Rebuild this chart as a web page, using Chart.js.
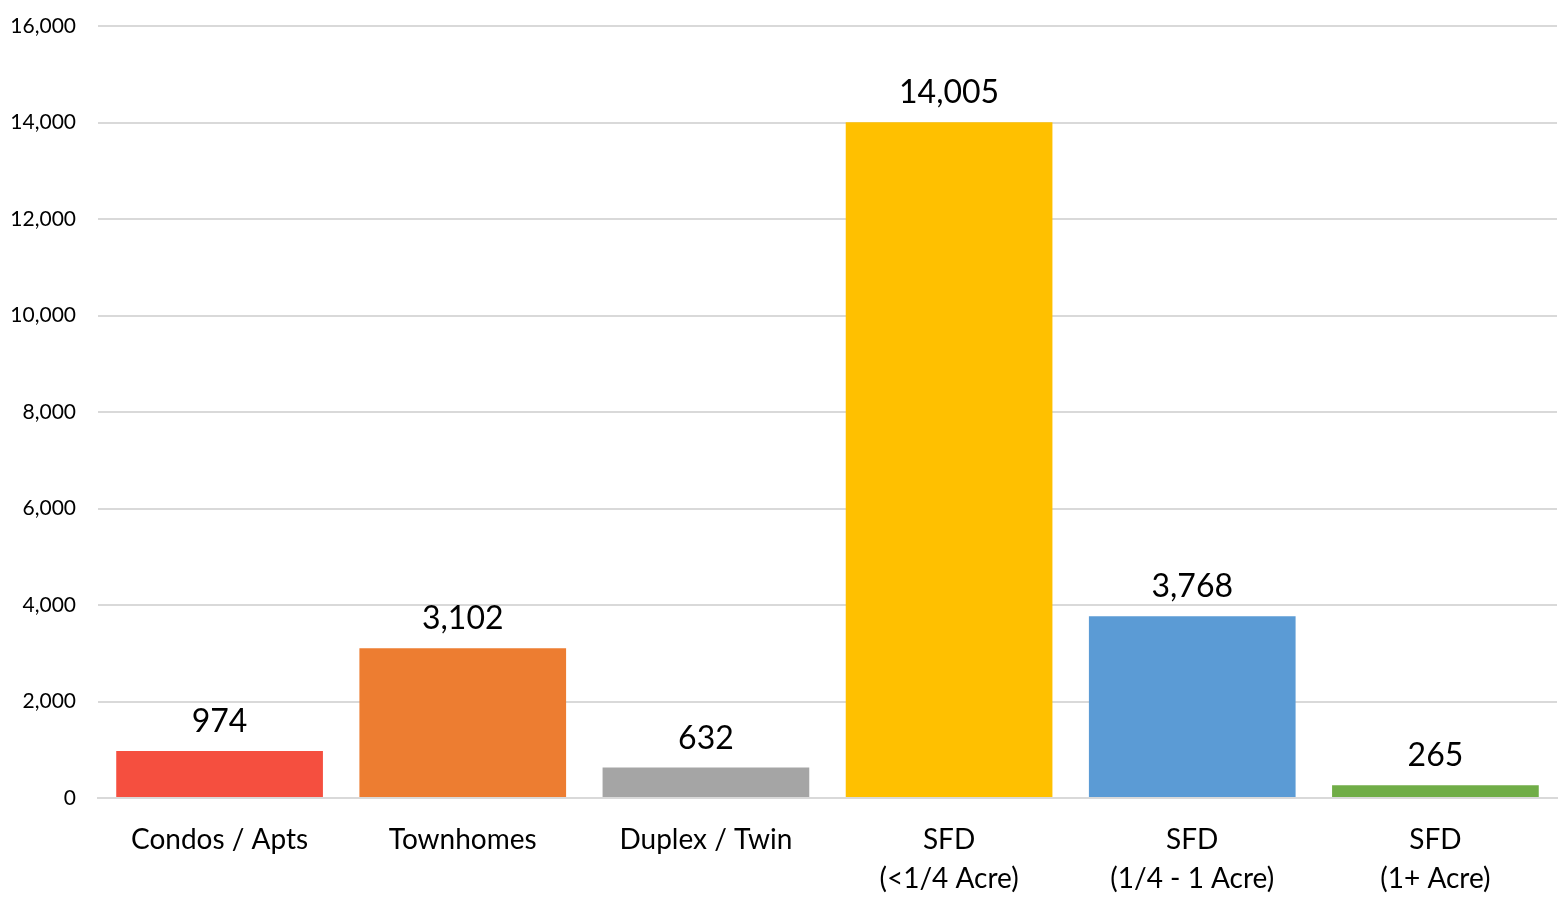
<!DOCTYPE html>
<html>
<head>
<meta charset="utf-8">
<script src="https://cdn.jsdelivr.net/npm/chart.js@4/dist/chart.umd.min.js"></script>
<style>
  html, body { margin: 0; padding: 0; background: #fff; }
  #wrap { width: 1567px; height: 908px; }
</style>
</head>
<body>
<div id="wrap"><canvas id="unitsChart" width="1567" height="908"></canvas></div>
<script>
const categories = [
  'Condos / Apts',
  'Townhomes',
  'Duplex / Twin',
  ['SFD', '(<1/4 Acre)'],
  ['SFD', '(1/4 - 1 Acre)'],
  ['SFD', '(1+ Acre)']
];
const units = [974, 3102, 632, 14005, 3768, 265];
const barColors = ['#F54F3F', '#ED7D31', '#A5A5A5', '#FFC000', '#5B9BD5', '#70AD47'];

const FONT = 'Lato, "Open Sans", sans-serif';

// value labels above each bar
const valueLabels = {
  id: 'valueLabels',
  afterDatasetsDraw(chart) {
    const ctx = chart.ctx;
    const meta = chart.getDatasetMeta(0);
    ctx.save();
    ctx.font = '32px ' + FONT;
    ctx.fillStyle = '#000';
    ctx.textAlign = 'center';
    ctx.textBaseline = 'alphabetic';
    meta.data.forEach((bar, i) => {
      ctx.fillText(units[i].toLocaleString('en-US'), bar.x, bar.y - 19);
    });
    ctx.restore();
  }
};

const ctx = document.getElementById('unitsChart').getContext('2d');
new Chart(ctx, {
  type: 'bar',
  data: {
    labels: categories,
    datasets: [{
      data: units,
      backgroundColor: barColors,
      borderWidth: 0,
      categoryPercentage: 1.0,
      barPercentage: 0.85
    }]
  },
  options: {
    responsive: false,
    animation: false,
    layout: { padding: { top: 26, right: 10, bottom: 12, left: 10 } },
    plugins: {
      legend: { display: false },
      tooltip: { enabled: false }
    },
    scales: {
      x: {
        grid: { display: false, drawTicks: false },
        border: { display: true, color: '#D9D9D9', width: 2 },
        ticks: {
          color: '#000',
          font: { family: FONT, size: 28, lineHeight: 1.4 },
          padding: 22,
          maxRotation: 0,
          autoSkip: false
        },
        afterFit(scale) { scale.height = 98; }
      },
      y: {
        min: 0,
        max: 16000,
        grid: { color: '#D9D9D9', lineWidth: 2, drawTicks: false },
        border: { display: false },
        ticks: {
          stepSize: 2000,
          color: '#000',
          font: { family: FONT, size: 21 },
          padding: 22,
          callback: v => v.toLocaleString('en-US')
        },
        afterFit(scale) {
          scale.width = 88;
          scale.paddingTop = 0;
          scale.paddingBottom = 0;
        }
      }
    }
  },
  plugins: [valueLabels]
});
</script>
</body>
</html>
